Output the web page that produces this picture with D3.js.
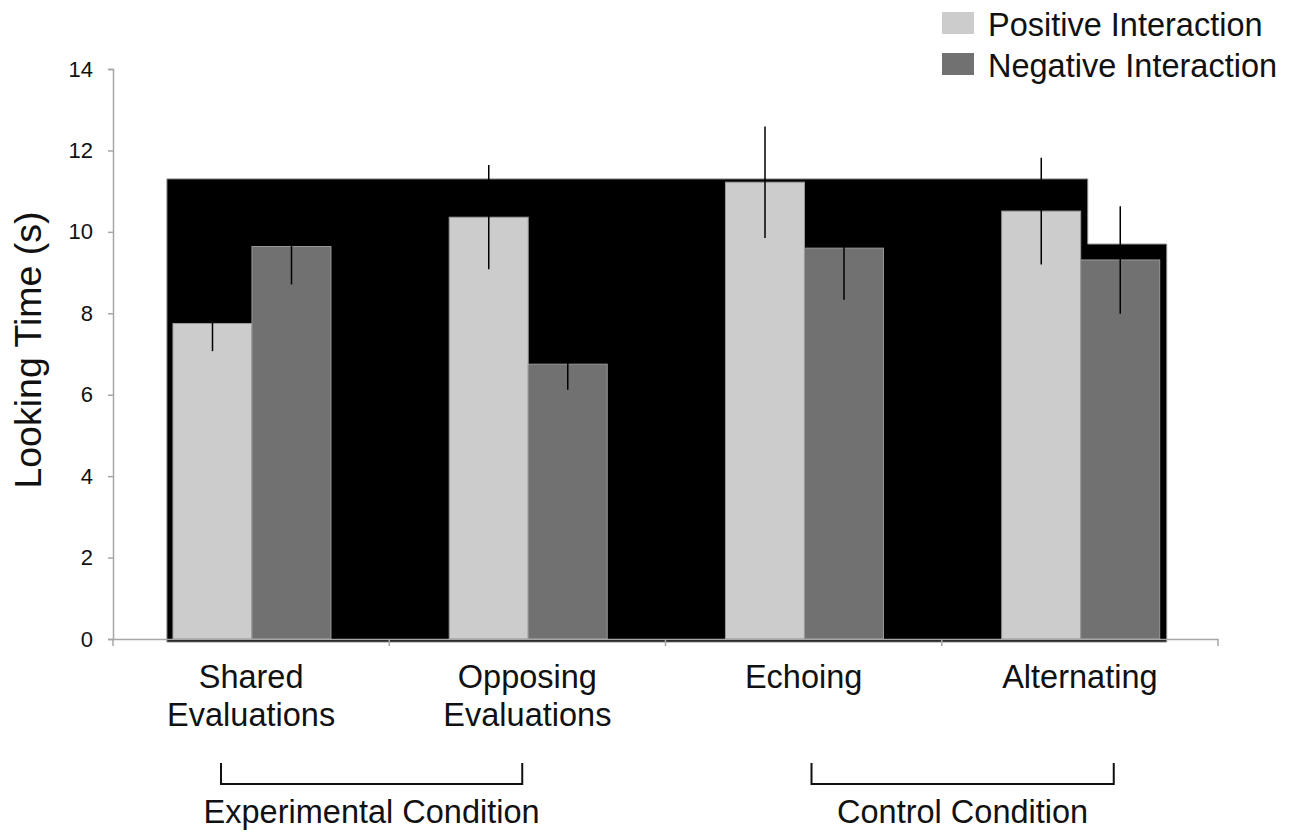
<!DOCTYPE html>
<html>
<head>
<meta charset="utf-8">
<script src="https://cdn.jsdelivr.net/npm/d3@7"></script>
<style>
  body { margin: 0; background: #fff; }
  svg { font-family: "Liberation Sans", Arial, sans-serif; }
  .axis path, .axis line { stroke: #a6a6a6; stroke-width: 1.5; }
  .axis text { font-size: 22px; fill: #111; }
</style>
</head>
<body>
<svg id="chart"></svg>
<script>
// data
const categories = ["Shared Evaluations", "Opposing Evaluations", "Echoing", "Alternating"];
const categoryLines = [["Shared", "Evaluations"], ["Opposing", "Evaluations"], ["Echoing"], ["Alternating"]];
const seriesKeys = ["pos", "neg"];
const seriesNames = ["Positive Interaction", "Negative Interaction"];
const positiveMeans = [7.75, 10.36, 11.22, 10.51];
const positiveErrors = [0.68, 1.28, 1.37, 1.31];
const negativeMeans = [9.64, 6.75, 9.60, 9.31];
const negativeErrors = [0.93, 0.63, 1.27, 1.32];
const yTicks = [0, 2, 4, 6, 8, 10, 12, 14];
// the black block behind the bars
const backdropLevels = [11.3, 9.7];
const groupNames = ["Experimental Condition", "Control Condition"];

const width = 1295, height = 834;
const margin = {top: 69, right: 77, bottom: 195, left: 113};
const colors = {pos: "#cccccc", neg: "#717171"};
const labelSize = 32.5;

const svg = d3.select("#chart").attr("width", width).attr("height", height);

const y = d3.scaleLinear().domain([0, 14]).range([height - margin.bottom, margin.top]);
const x0 = d3.scaleBand().domain(categories).range([margin.left, width - margin.right]).padding(0);
const x1 = d3.scaleBand().domain(seriesKeys)
    .range([x0.bandwidth() * 0.217, x0.bandwidth() * 0.789]).padding(0);

const rows = categories.map((c, i) => ({
  cat: c,
  vals: [
    {key: "pos", value: positiveMeans[i], err: positiveErrors[i]},
    {key: "neg", value: negativeMeans[i], err: negativeErrors[i]}
  ]
}));

// black backdrop: level 1 up to the last positive bar, level 2 over the last negative bar
const last = categories[categories.length - 1];
const bx0 = x0(categories[0]) + x1("pos") - 6;
const bx1 = x0(last) + x1("neg") + 7;
const bx2 = x0(last) + x1("neg") + x1.bandwidth() + 7;
const yb = y(0) + 3;
svg.append("path")
    .attr("d", `M${bx0},${yb}V${y(backdropLevels[0])}H${bx1}V${y(backdropLevels[1])}H${bx2}V${yb}Z`)
    .attr("fill", "#000")
    .attr("stroke", "#8a8a8a")
    .attr("stroke-width", 1);

// bars
const groups = svg.append("g").selectAll("g")
    .data(rows)
    .join("g")
    .attr("transform", d => `translate(${x0(d.cat)},0)`);

groups.selectAll("rect")
    .data(d => d.vals)
    .join("rect")
    .attr("x", d => x1(d.key))
    .attr("y", d => y(d.value))
    .attr("width", x1.bandwidth())
    .attr("height", d => y(0) - y(d.value))
    .attr("fill", d => colors[d.key])
    .attr("stroke", "#9a9a9a")
    .attr("stroke-width", 1);

groups.selectAll("line.err")
    .data(d => d.vals)
    .join("line")
    .attr("class", "err")
    .attr("x1", d => Math.round(x1(d.key) + x1.bandwidth() / 2) + 0.5)
    .attr("x2", d => Math.round(x1(d.key) + x1.bandwidth() / 2) + 0.5)
    .attr("y1", d => y(d.value + d.err))
    .attr("y2", d => y(d.value - d.err))
    .attr("stroke", "#000")
    .attr("stroke-width", 1.5);

// axes
svg.append("g")
    .attr("class", "axis")
    .attr("transform", `translate(${margin.left},0)`)
    .call(d3.axisLeft(y).tickValues(yTicks).tickSize(5).tickSizeOuter(5).tickPadding(15));

const xAxisG = svg.append("g")
    .attr("class", "axis")
    .attr("transform", `translate(0,${y(0)})`)
    .call(d3.axisBottom(x0).tickSize(0).tickSizeOuter(0).tickFormat(""));

// x tick marks at band edges
xAxisG.selectAll("line.edge")
    .data(categories.map(c => x0(c)).concat([x0(last) + x0.bandwidth()]))
    .join("line")
    .attr("class", "edge")
    .attr("x1", d => d).attr("x2", d => d)
    .attr("y1", 0).attr("y2", 7);

// category labels
const labels = svg.append("g").selectAll("text")
    .data(categories)
    .join("text")
    .attr("x", d => x0(d) + x0.bandwidth() / 2)
    .attr("y", 688)
    .attr("text-anchor", "middle")
    .attr("font-size", labelSize)
    .attr("fill", "#111");
labels.each(function(d, i) {
  d3.select(this).selectAll("tspan")
    .data(categoryLines[i])
    .join("tspan")
    .attr("x", x0(d) + x0.bandwidth() / 2)
    .attr("dy", (t, j) => j === 0 ? 0 : 38)
    .text(t => t);
});

// y title
svg.append("text")
    .attr("transform", `translate(41,${(y(0) + y(14)) / 2 - 4}) rotate(-90)`)
    .attr("text-anchor", "middle")
    .attr("font-size", 37.5)
    .attr("fill", "#111")
    .text("Looking Time (s)");

// condition brackets
const brackets = [
  {name: groupNames[0], x1: x0(categories[0]) + 108, x2: x0(categories[1]) + 133},
  {name: groupNames[1], x1: x0(categories[2]) + 146, x2: x0(categories[3]) + 172}
];
const bg = svg.append("g");
bg.selectAll("path")
    .data(brackets)
    .join("path")
    .attr("d", d => `M${d.x1},763V784H${d.x2}V763`)
    .attr("fill", "none")
    .attr("stroke", "#111")
    .attr("stroke-width", 2);
bg.selectAll("text")
    .data(brackets)
    .join("text")
    .attr("x", d => (d.x1 + d.x2) / 2)
    .attr("y", 823)
    .attr("text-anchor", "middle")
    .attr("font-size", labelSize)
    .attr("fill", "#111")
    .text(d => d.name);

// legend
const legend = svg.append("g").attr("transform", "translate(942,12)");
const li = legend.selectAll("g")
    .data(seriesKeys)
    .join("g")
    .attr("transform", (d, i) => `translate(0,${i * 41})`);
li.append("rect")
    .attr("width", 32).attr("height", 22)
    .attr("fill", d => colors[d]);
li.append("text")
    .attr("x", 46)
    .attr("y", 24)
    .attr("font-size", labelSize)
    .attr("fill", "#111")
    .text((d, i) => seriesNames[i]);
</script>
</body>
</html>
